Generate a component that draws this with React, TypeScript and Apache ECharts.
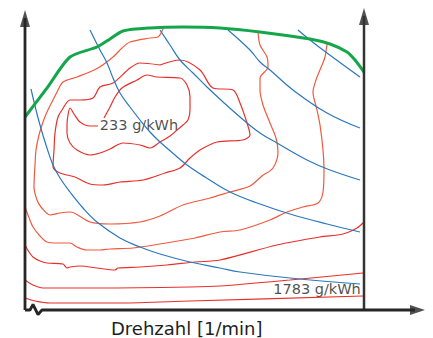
import React, { useEffect, useRef } from "react";
import * as echarts from "echarts";

type Pt = [number, number];

// x: speed (arbitrary units), y: load (arbitrary units)
const fullLoad: Pt[] = [
  [0, 192], [22, 221], [45, 252], [72, 262], [85, 270], [98, 278], [125, 281],
  [158, 282], [195, 281], [235, 277], [285, 270], [305, 265], [322, 257], [330, 249], [339, 237],
];

// specific consumption iso-lines
const bsfc1: Pt[] = [
  [73, 183], [65, 183], [55, 187], [49, 195], [45, 201], [43, 194], [42, 184], [42, 176],
  [45, 166], [52, 159], [65, 154], [75, 156], [85, 160], [98, 166], [115, 164], [125, 161],
  [135, 167], [145, 173], [152, 179], [158, 184], [163, 189], [165, 199], [165, 212],
  [162, 224], [155, 231], [132, 232], [122, 234], [112, 229], [97, 221], [90, 212],
  [85, 202], [79, 191],
];
const bsfc2: Pt[] = [
  [135, 244], [115, 246], [105, 241], [88, 226], [75, 222], [68, 211], [55, 209], [45, 209],
  [37, 199], [33, 192], [30, 176], [29, 159], [28, 142], [35, 136], [50, 132], [65, 125],
  [78, 124], [95, 127], [118, 129], [140, 136], [155, 141], [165, 151], [175, 159],
  [192, 167], [218, 169], [225, 174], [222, 186], [215, 206], [208, 219], [188, 221],
  [175, 239], [155, 249], [135, 244],
];
const bsfc3: Pt[] = [
  [138, 280], [133, 272], [125, 271], [105, 267], [97, 261], [88, 252], [73, 241], [52, 232],
  [38, 227], [32, 217], [28, 209], [22, 197], [18, 187], [14, 174], [11, 159], [10, 144],
  [9, 122], [12, 109], [16, 102], [25, 94], [35, 96], [45, 97], [65, 87], [85, 85],
  [115, 87], [135, 93], [158, 104], [185, 111], [205, 117], [225, 123], [237, 133],
  [248, 141], [253, 157], [251, 171], [245, 186], [238, 204], [235, 219], [235, 231],
  [243, 242], [242, 252], [235, 264], [233, 277],
];
const bsfc4: Pt[] = [
  [0, 102], [3, 94], [8, 82], [15, 73], [22, 67], [32, 66], [45, 66], [52, 62], [62, 59],
  [75, 59], [85, 60], [108, 61], [135, 65], [170, 71], [195, 77], [215, 79], [245, 89],
  [262, 97], [278, 102], [293, 106], [298, 117], [299, 139], [298, 159], [295, 184],
  [292, 199], [288, 217], [291, 229], [297, 244], [300, 252], [302, 265],
];
const bsfc5: Pt[] = [
  [0, 64], [4, 57], [8, 52], [15, 48], [22, 46], [38, 45], [42, 41], [45, 42], [55, 43],
  [72, 41], [90, 39], [93, 41], [115, 42], [142, 44], [170, 47], [195, 49], [252, 64],
  [295, 72], [318, 75], [332, 81], [339, 87],
];
const bsfc6: Pt[] = [
  [0, 29], [8, 24], [18, 21], [75, 21], [165, 22], [195, 23], [265, 29], [338, 36],
];
const bsfc7: Pt[] = [
  [0, 11], [10, 8], [25, 6], [95, 6], [165, 8], [338, 13],
];

// constant power hyperbolas
const power1: Pt[] = [
  [6, 220], [11, 199], [15, 184], [21, 164], [28, 144], [35, 131], [45, 117], [58, 101],
  [72, 87], [95, 71], [115, 62], [135, 55], [165, 47], [195, 41], [215, 37], [265, 31], [335, 25],
];
const power2: Pt[] = [
  [65, 279], [75, 259], [82, 246], [88, 231], [95, 216], [105, 202], [115, 189], [125, 177],
  [135, 167], [150, 154], [162, 144], [180, 132], [205, 117], [235, 105], [265, 95],
  [302, 85], [335, 77],
];
const power3: Pt[] = [
  [135, 279], [145, 264], [155, 249], [168, 236], [182, 222], [197, 208], [215, 192],
  [235, 176], [252, 166], [282, 149], [305, 139], [335, 129],
];
const power4: Pt[] = [
  [203, 279], [225, 259], [235, 247], [245, 239], [268, 219], [302, 196], [335, 181],
];
const power5: Pt[] = [
  [273, 279], [285, 269], [302, 256], [335, 232],
];

const leftAxis: Pt[] = [[0, -1], [0, 291]];
const rightAxis: Pt[] = [[339, -1], [339, 293]];
const bottomAxis: Pt[] = [[0, -1], [5, -1], [8, 4.5], [13, -5.5], [17, -1], [390, -1]];

const labelNames = ["233 g/kWh", "1783 g/kWh"];
const labelAnchors: Pt[] = [[114, 184], [292, 20]];
const xTitle = "Drehzahl [1/min]";

const RED = "#e8302b";
const ORANGE = "#ef5a3f";
const BLUE = "#2a78bd";
const GREEN = "#14a64a";
const AXIS = "#262626";

function lineSeries(data: Pt[], color: string, width: number, smooth = 0.3) {
  return {
    type: "line",
    data,
    showSymbol: false,
    symbol: "none",
    smooth,
    clip: false,
    silent: true,
    lineStyle: { color, width },
  };
}

export default function App() {
  const ref = useRef<HTMLDivElement>(null);
  useEffect(() => {
    if (!ref.current) return;
    const chart = echarts.init(ref.current, undefined, { renderer: "svg" });
    const contours: [Pt[], string][] = [
      [bsfc1, RED], [bsfc2, RED], [bsfc3, ORANGE], [bsfc4, ORANGE],
      [bsfc5, RED], [bsfc6, RED], [bsfc7, RED],
    ];
    const powers = [power1, power2, power3, power4, power5];
    chart.setOption({
      animation: false,
      grid: { left: 25, right: 8, top: 4, bottom: 28 },
      xAxis: { type: "value", min: 0, max: 400, show: false },
      yAxis: { type: "value", min: -1, max: 305, show: false },
      title: {
        text: xTitle,
        left: 106,
        top: 314,
        textStyle: { fontFamily: "DejaVu Sans", fontSize: 18, fontWeight: "normal", color: "#1e1e1e" },
      },
      series: [
        ...contours.map(([d, c]) => lineSeries(d, c, 1.2)),
        ...powers.map((d) => lineSeries(d, BLUE, 1.2, 0.4)),
        lineSeries(fullLoad, GREEN, 3, 0.25),
        lineSeries(leftAxis, AXIS, 2.8, 0),
        lineSeries(rightAxis, "#333", 2.5, 0),
        lineSeries(bottomAxis, AXIS, 2.8, 0),
        {
          type: "scatter",
          silent: true,
          symbol: "triangle",
          symbolSize: [10, 17],
          itemStyle: { color: AXIS },
          data: [[0, 290.5], [339, 292.5]],
        },
        {
          type: "scatter",
          silent: true,
          symbol: "triangle",
          symbolSize: [10, 15],
          symbolRotate: -90,
          itemStyle: { color: AXIS },
          data: [[392.5, -1]],
        },
        {
          type: "scatter",
          silent: true,
          symbolSize: 1,
          itemStyle: { color: "transparent" },
          label: {
            show: true,
            position: "inside",
            formatter: (p: any) => p.name,
            fontFamily: "DejaVu Sans",
            fontSize: 14.5,
            color: "#1e1e1e",
          },
          data: labelNames.map((n, i) => ({ name: n, value: labelAnchors[i] })),
        },
      ],
    });
    return () => chart.dispose();
  }, []);
  return (
    <div
      ref={ref}
      style={{ position: "fixed", left: 0, top: 0, width: 433, height: 338, background: "#fff" }}
    />
  );
}
